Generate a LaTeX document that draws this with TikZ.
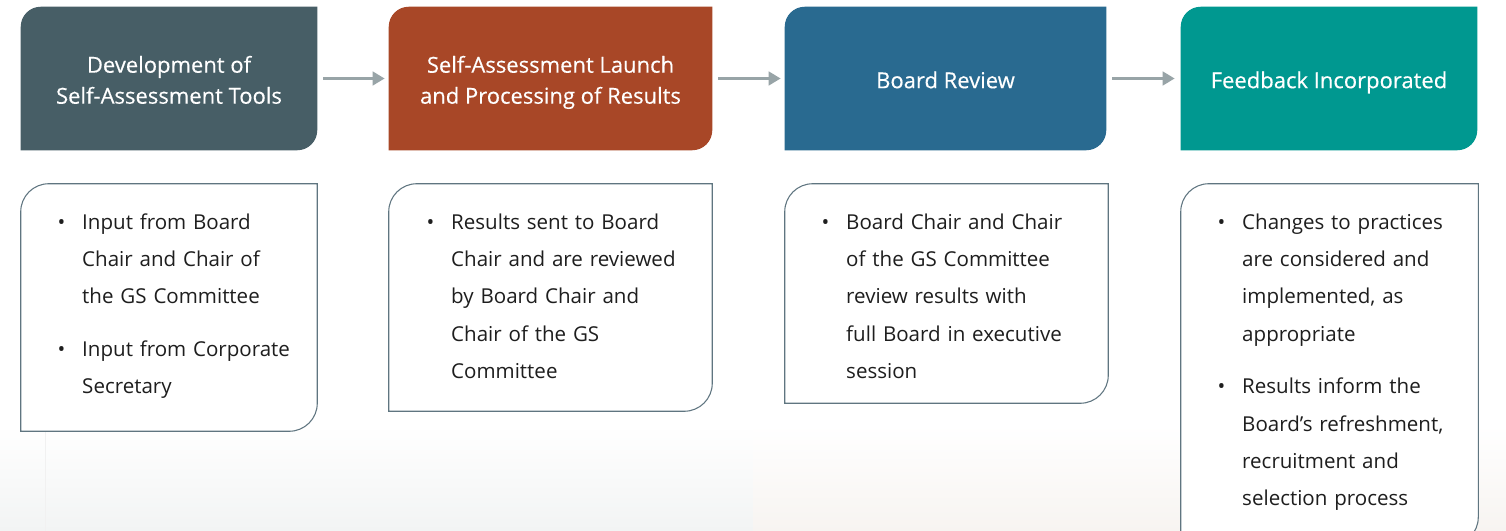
\documentclass[tikz,border=0pt]{standalone}
\usepackage{fontspec}
\setmainfont{Open Sans}
\newfontfamily\hdrfont[FakeBold=0.35]{Open Sans}
\usetikzlibrary{arrows.meta,backgrounds}
\definecolor{cA}{HTML}{475E66}
\definecolor{cB}{HTML}{A84727}
\definecolor{cC}{HTML}{296A90}
\definecolor{cD}{HTML}{009890}
\definecolor{arrowgrey}{HTML}{98A4A7}
\definecolor{boxline}{HTML}{5F7580}
\definecolor{txt}{HTML}{1E1E1E}
\definecolor{bgl}{HTML}{F2F4F4}
\definecolor{bgr}{HTML}{F7F4F1}
\newcommand{\bul}{\makebox[18.5pt][l]{\textbullet}}
\newcommand{\ind}{\hspace*{18.5pt}}
\tikzset{
  x=0.75pt, y=-0.75pt,
  hdrbox/.style={inner sep=0pt},
  header/.style={inner sep=0pt, text=white, align=center, font=\hdrfont\fontsize{16.5}{23.25}\selectfont},
  bodybox/.style={inner sep=0pt},
  bodytext/.style={inner sep=0pt, anchor=base west, align=left, text=txt, text width=210pt,
     font=\fontsize{15.4}{28.1}\selectfont},
  flow/.style={draw=arrowgrey, line width=2.2pt, -{Triangle[length=9pt,width=10pt]}},
}
\newcommand{\hdrshape}[2]{%
  \fill[#2] (#1.south west) [rounded corners=15pt] -- (#1.north west) [sharp corners] -- (#1.north east) [rounded corners=15pt] -- (#1.south east) [sharp corners] -- cycle;}
\newcommand{\bodyshape}[1]{%
  \draw[boxline, line width=0.8pt, fill=white] (#1.south west) [rounded corners=21pt] -- (#1.north west) [sharp corners] -- (#1.north east) [rounded corners=21pt] -- (#1.south east) [sharp corners] -- cycle;}
\begin{document}
\begin{tikzpicture}
\clip (0,0) rectangle (1506,531);

% header boxes
\node[hdrbox, minimum width=296*0.75pt, minimum height=143*0.75pt] (h1) at (169,78.5) {};
\node[hdrbox, minimum width=323*0.75pt, minimum height=143*0.75pt] (h2) at (550.5,78.5) {};
\node[hdrbox, minimum width=321*0.75pt, minimum height=143*0.75pt] (h3) at (945.5,78.5) {};
\node[hdrbox, minimum width=296*0.75pt, minimum height=143*0.75pt] (h4) at (1329,78.5) {};
\begin{scope}[on background layer]
\fill[white] (0,0) rectangle (1506,531);
\shade[top color=white, bottom color=bgl] (0,425) rectangle (753,531);
\shade[top color=white, bottom color=bgr] (753,425) rectangle (1506,531);
\draw[bgl!80!gray!40, line width=0.6pt] (45,430) -- (45,531);
\hdrshape{h1}{cA}
\hdrshape{h2}{cB}
\hdrshape{h3}{cC}
\hdrshape{h4}{cD}
\end{scope}
\node[header] (h1t) at (169,82) {Development of\strut\\Self-Assessment Tools\strut};
\node[header] (h2t) at (550.5,82) {Self-Assessment Launch\strut\\and Processing of Results\strut};
\node[header] (h3t) at (945.5,82) {Board Review\strut};
\node[header] (h4t) at (1329,82) {Feedback Incorporated\strut};

\draw[flow] ([xshift=6*0.75pt]h1.east) -- ([xshift=-4*0.75pt]h2.west);
\draw[flow] ([xshift=6*0.75pt]h2.east) -- ([xshift=-4*0.75pt]h3.west);
\draw[flow] ([xshift=6*0.75pt]h3.east) -- ([xshift=-6*0.75pt]h4.west);

% body boxes
\node[bodybox, minimum width=296*0.75pt, minimum height=247*0.75pt] (b1) at (169,307.5) {};
\node[bodybox, minimum width=323*0.75pt, minimum height=227*0.75pt] (b2) at (550.5,297.5) {};
\node[bodybox, minimum width=323*0.75pt, minimum height=219*0.75pt] (b3) at (946.5,293.5) {};
\node[bodybox, minimum width=297*0.75pt, minimum height=361*0.75pt] (b4) at (1329.5,364.5) {};
\bodyshape{b1}
\bodyshape{b2}
\bodyshape{b3}
\bodyshape{b4}

\node[bodytext] (t1) at (57.3,229) {\bul Input from Board\\\ind Chair and Chair of\\\ind the GS Committee\\[11pt]\bul Input from Corporate\\\ind Secretary};
\node[bodytext] (t2) at (426.3,229) {\bul Results sent to Board\\\ind Chair and are reviewed\\\ind by Board Chair and\\\ind Chair of the GS\\\ind Committee};
\node[bodytext] (t3) at (821.3,229) {\bul Board Chair and Chair\\\ind of the GS Committee\\\ind review results with\\\ind full Board in executive\\\ind session};
\node[bodytext] (t4) at (1217.3,229) {\bul Changes to practices\\\ind are considered and\\\ind implemented, as\\\ind appropriate\\[11pt]\bul Results inform the\\\ind Board’s refreshment,\\\ind recruitment and\\\ind selection process};
\end{tikzpicture}
\end{document}
